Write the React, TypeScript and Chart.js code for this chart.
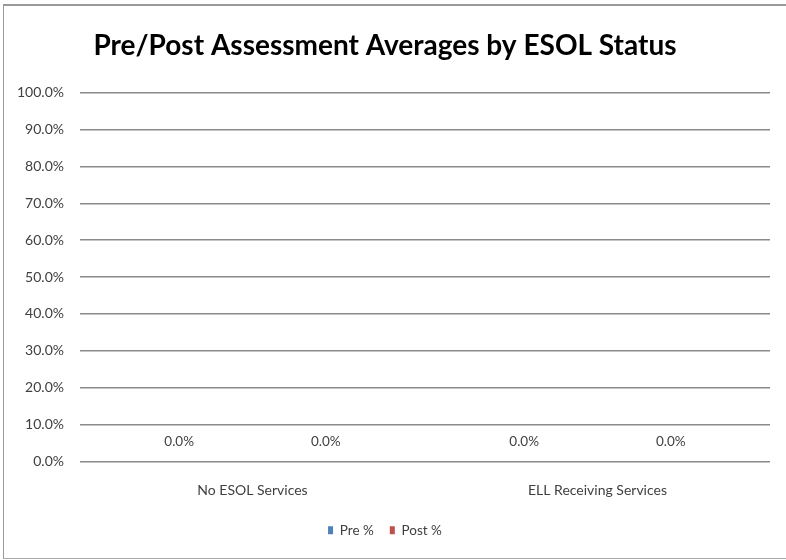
import React, { useEffect, useRef } from "react";
import { Chart, registerables } from "chart.js";

Chart.register(...registerables);

const categories = ["No ESOL Services", "ELL Receiving Services"];
const prePercent = [0, 0];
const postPercent = [0, 0];
const seriesNames = ["Pre %", "Post %"];
const seriesColors = ["#4F81BD", "#C0504D"];
const yMax = 100;
const yStep = 10;
const titleText = "Pre/Post Assessment Averages by ESOL Status";

const FONT = "Lato, 'Noto Sans', sans-serif";

const dataLabelPlugin = {
  id: "dataLabels",
  afterDatasetsDraw(chart: any) {
    const ctx = chart.ctx;
    ctx.save();
    ctx.font = `13.5px ${FONT}`;
    ctx.fillStyle = "#404040";
    ctx.textAlign = "center";
    ctx.textBaseline = "middle";
    chart.data.datasets.forEach((ds: any, i: number) => {
      const meta = chart.getDatasetMeta(i);
      meta.data.forEach((bar: any, j: number) => {
        const v = ds.data[j] as number;
        ctx.fillText(v.toFixed(1) + "%", bar.x, bar.y - 20);
      });
    });
    ctx.restore();
  },
};

export default function App() {
  const ref = useRef<HTMLCanvasElement>(null);
  useEffect(() => {
    if (!ref.current) return;
    const chart = new Chart(ref.current, {
      type: "bar",
      data: {
        labels: categories,
        datasets: [
          { label: seriesNames[0], data: prePercent, backgroundColor: seriesColors[0] },
          { label: seriesNames[1], data: postPercent, backgroundColor: seriesColors[1] },
        ],
      },
      options: {
        responsive: false,
        animation: false,
        devicePixelRatio: 1,
        layout: { padding: { left: 0, right: 16, top: 0, bottom: 13 } },
        datasets: { bar: { categoryPercentage: 0.85, barPercentage: 1 } },
        plugins: {
          title: {
            display: true,
            text: titleText,
            color: "#000",
            font: { family: FONT, size: 28, weight: "bold" },
            padding: { top: 29, bottom: 30 },
          },
          legend: {
            position: "bottom",
            labels: {
              color: "#404040",
              font: { family: FONT, size: 13.5 },
              boxWidth: 5,
              boxHeight: 8,
              padding: 16,
            },
          },
          tooltip: { enabled: false },
        },
        scales: {
          x: {
            grid: { display: false, drawTicks: false },
            border: { display: false },
            ticks: { color: "#404040", font: { family: FONT, size: 14 }, padding: 21 },
            afterFit: (s: any) => { s.height = 46; },
          },
          y: {
            min: 0,
            max: yMax,
            ticks: {
              stepSize: yStep,
              color: "#404040",
              font: { family: FONT, size: 14 },
              padding: 16,
              callback: (v: any) => Number(v).toFixed(1) + "%",
            },
            grid: { color: "#8a8a8a", lineWidth: 1.5, drawTicks: false },
            border: { display: false },
            afterFit: (s: any) => { s.width = 80; },
          },
        },
      },
      plugins: [dataLabelPlugin],
    });
    return () => chart.destroy();
  }, []);
  return (
    <div style={{ position: "fixed", left: 0, top: 0, width: 786, height: 560, background: "#fff", overflow: "hidden" }}>
      <div style={{ position: "absolute", left: 3, top: 4, width: 790, height: 552, borderTop: "2px solid #999", borderLeft: "1px solid #999", borderBottom: "1px solid #aaa" }} />
      <canvas ref={ref} width={786} height={560} style={{ position: "absolute", left: 0, top: 0 }} />
    </div>
  );
}
